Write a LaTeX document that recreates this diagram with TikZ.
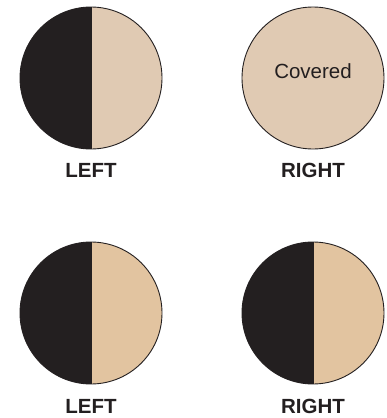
\documentclass[tikz,border=0pt]{standalone}
\usepackage{fontspec}
\setmainfont{Liberation Sans}
\usetikzlibrary{positioning}
\definecolor{ink}{HTML}{231F20}
\definecolor{skin}{HTML}{E0CAB3}
\definecolor{tanned}{HTML}{E2C4A0}

\begin{document}
\begin{tikzpicture}[x=1pt,y=1pt,font=\fontsize{20.5}{24}\selectfont,
  eyelabel/.style={font=\fontsize{20.5}{24}\selectfont\bfseries,text=ink}]
\useasboundingbox (0,0) rectangle (387,-418);
% half dark / half light discs
\foreach \cx/\cy/\col in {91/78/skin, 91/313/tanned, 313/313/tanned} {
  \fill[ink] (\cx,-\cy+71) arc (90:270:71) -- cycle;
  \fill[\col] (\cx,-\cy-71) arc (-90:90:71) -- cycle;
  \draw[ink,line width=0.9pt] (\cx,-\cy) circle (71);
  \draw[ink,line width=0.9pt] (\cx,-\cy+71) -- (\cx,-\cy-71);
}
% covered disc
\node[circle,draw=ink,line width=0.9pt,fill=skin,minimum size=142pt,inner sep=0pt,text=ink] (covered) at (313,-78) {};
\node[text=ink] (covtext) at (313,-71) {Covered};
% labels
\node[eyelabel] (left1) at (91,-170) {LEFT};
\node[eyelabel] (right1) at (313,-170) {RIGHT};
\node[eyelabel] (left2) at (91,-406.5) {LEFT};
\node[eyelabel] (right2) at (313,-406.5) {RIGHT};
\end{tikzpicture}
\end{document}
